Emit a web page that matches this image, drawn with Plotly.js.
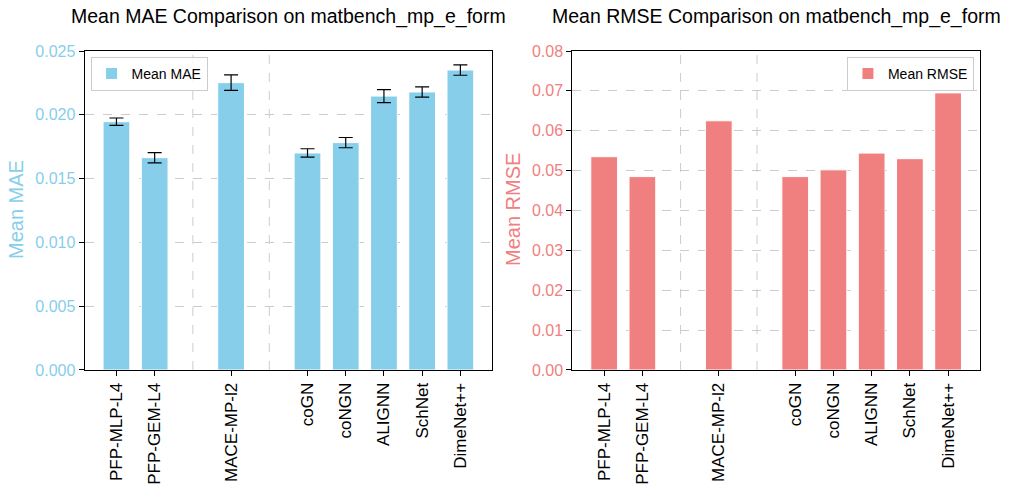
<!DOCTYPE html>
<html>
<head>
<meta charset="utf-8">
<script src="https://cdn.plot.ly/plotly-3.0.1.min.js"></script>
<style>
  body { margin: 0; background: #fff; }
  #chart { width: 1010px; height: 490px; }
</style>
</head>
<body>
<div id="chart"></div>
<script>
// models and their x positions (gaps mark the groups)
var models = ['PFP-MLP-L4', 'PFP-GEM-L4', 'MACE-MP-l2', 'coGN', 'coNGN', 'ALIGNN', 'SchNet', 'DimeNet++'];
var positions = [0, 1, 3, 5, 6, 7, 8, 9];
var separators = [2, 4];

var maeMean = [0.01946, 0.01664, 0.02252, 0.01701, 0.01782, 0.02147, 0.02179, 0.02351];
var maeStd = [0.00029, 0.00040, 0.00061, 0.00033, 0.00040, 0.00051, 0.00040, 0.00041];
var rmseMean = [0.0535, 0.0485, 0.0625, 0.0485, 0.0502, 0.0544, 0.0530, 0.0695];

var maeTicks = [0, 0.005, 0.010, 0.015, 0.020, 0.025];
var rmseTicks = [0, 0.01, 0.02, 0.03, 0.04, 0.05, 0.06, 0.07, 0.08];

var blue = '#87CEEB';
var red = '#F08080';
var font = 'Liberation Sans, Arial, sans-serif';

var traceMae = {
  type: 'bar',
  x: positions,
  y: maeMean,
  width: 0.7,
  name: 'Mean MAE',
  marker: { color: blue, line: { color: '#ffffff', width: 1 } },
  error_y: { type: 'data', array: maeStd, visible: true, color: '#000', thickness: 1.2, width: 7 },
  xaxis: 'x', yaxis: 'y',
  legend: 'legend'
};

var traceRmse = {
  type: 'bar',
  x: positions,
  y: rmseMean,
  width: 0.7,
  name: 'Mean RMSE',
  marker: { color: red, line: { color: '#ffffff', width: 1 } },
  xaxis: 'x2', yaxis: 'y2',
  legend: 'legend2'
};

var shapes = [];
separators.forEach(function (s) {
  ['x', 'x2'].forEach(function (ax) {
    shapes.push({
      type: 'line', xref: ax, yref: ax === 'x' ? 'y domain' : 'y2 domain',
      x0: s, x1: s, y0: 0, y1: 1,
      line: { color: '#cccccc', width: 1, dash: 'dash' }, layer: 'below'
    });
  });
});

function xAxis(domain, anchor) {
  return {
    domain: domain, anchor: anchor,
    range: [-0.835, 9.835],
    tickvals: positions, ticktext: models, tickangle: -90,
    tickfont: { family: font, size: 17, color: '#000' },
    ticks: 'outside', ticklen: 5, tickcolor: '#000',
    showgrid: false, zeroline: false,
    showline: true, linecolor: '#000', linewidth: 1, mirror: true
  };
}

function yAxis(domain, anchor, ticks, max, color, fmt) {
  return {
    domain: domain, anchor: anchor,
    range: [0, max],
    tickvals: ticks, tickformat: fmt,
    tickfont: { family: font, size: 16, color: color },
    ticks: 'outside', ticklen: 5, tickcolor: '#000',
    showgrid: true, gridcolor: '#cccccc', griddash: 'dash', gridwidth: 1,
    zeroline: false,
    showline: true, linecolor: '#000', linewidth: 1, mirror: true
  };
}

var yDom = [0.2449, 0.8959];

var layout = {
  width: 1010, height: 490,
  margin: { l: 0, r: 0, t: 0, b: 0 },
  paper_bgcolor: '#fff', plot_bgcolor: '#fff',
  font: { family: font, size: 14, color: '#000' },
  xaxis: xAxis([0.0837, 0.4874], 'y'),
  yaxis: yAxis(yDom, 'x', maeTicks, 0.025, blue, '.3f'),
  xaxis2: xAxis([0.5666, 0.9703], 'y2'),
  yaxis2: yAxis(yDom, 'x2', rmseTicks, 0.08, red, '.2f'),
  shapes: shapes,
  legend: {
    x: 0.0837 + 0.006, y: 0.8959 - 0.012, xanchor: 'left', yanchor: 'top',
    bgcolor: 'rgba(255,255,255,0.8)', bordercolor: '#cccccc', borderwidth: 1,
    font: { family: font, size: 14 }
  },
  legend2: {
    x: 0.9703 - 0.006, y: 0.8959 - 0.012, xanchor: 'right', yanchor: 'top',
    bgcolor: 'rgba(255,255,255,0.8)', bordercolor: '#cccccc', borderwidth: 1,
    font: { family: font, size: 14 }
  },
  annotations: [
    { text: 'Mean MAE Comparison on matbench_mp_e_form', xref: 'paper', yref: 'paper',
      x: 0.2856, y: 1 - 17 / 490, xanchor: 'center', yanchor: 'middle', showarrow: false,
      font: { family: font, size: 19.5, color: '#000' } },
    { text: 'Mean RMSE Comparison on matbench_mp_e_form', xref: 'paper', yref: 'paper',
      x: 0.7685, y: 1 - 17 / 490, xanchor: 'center', yanchor: 'middle', showarrow: false,
      font: { family: font, size: 19.5, color: '#000' } },
    { text: 'Mean MAE', xref: 'paper', yref: 'paper', textangle: -90,
      x: 16 / 1010, y: 1 - 210 / 490, xanchor: 'center', yanchor: 'middle', showarrow: false,
      font: { family: font, size: 20, color: blue } },
    { text: 'Mean RMSE', xref: 'paper', yref: 'paper', textangle: -90,
      x: 513 / 1010, y: 1 - 210 / 490, xanchor: 'center', yanchor: 'middle', showarrow: false,
      font: { family: font, size: 20, color: red } }
  ],
  showlegend: true,
  bargap: 0
};

Plotly.newPlot('chart', [traceMae, traceRmse], layout, { displayModeBar: false, staticPlot: true });
</script>
</body>
</html>
